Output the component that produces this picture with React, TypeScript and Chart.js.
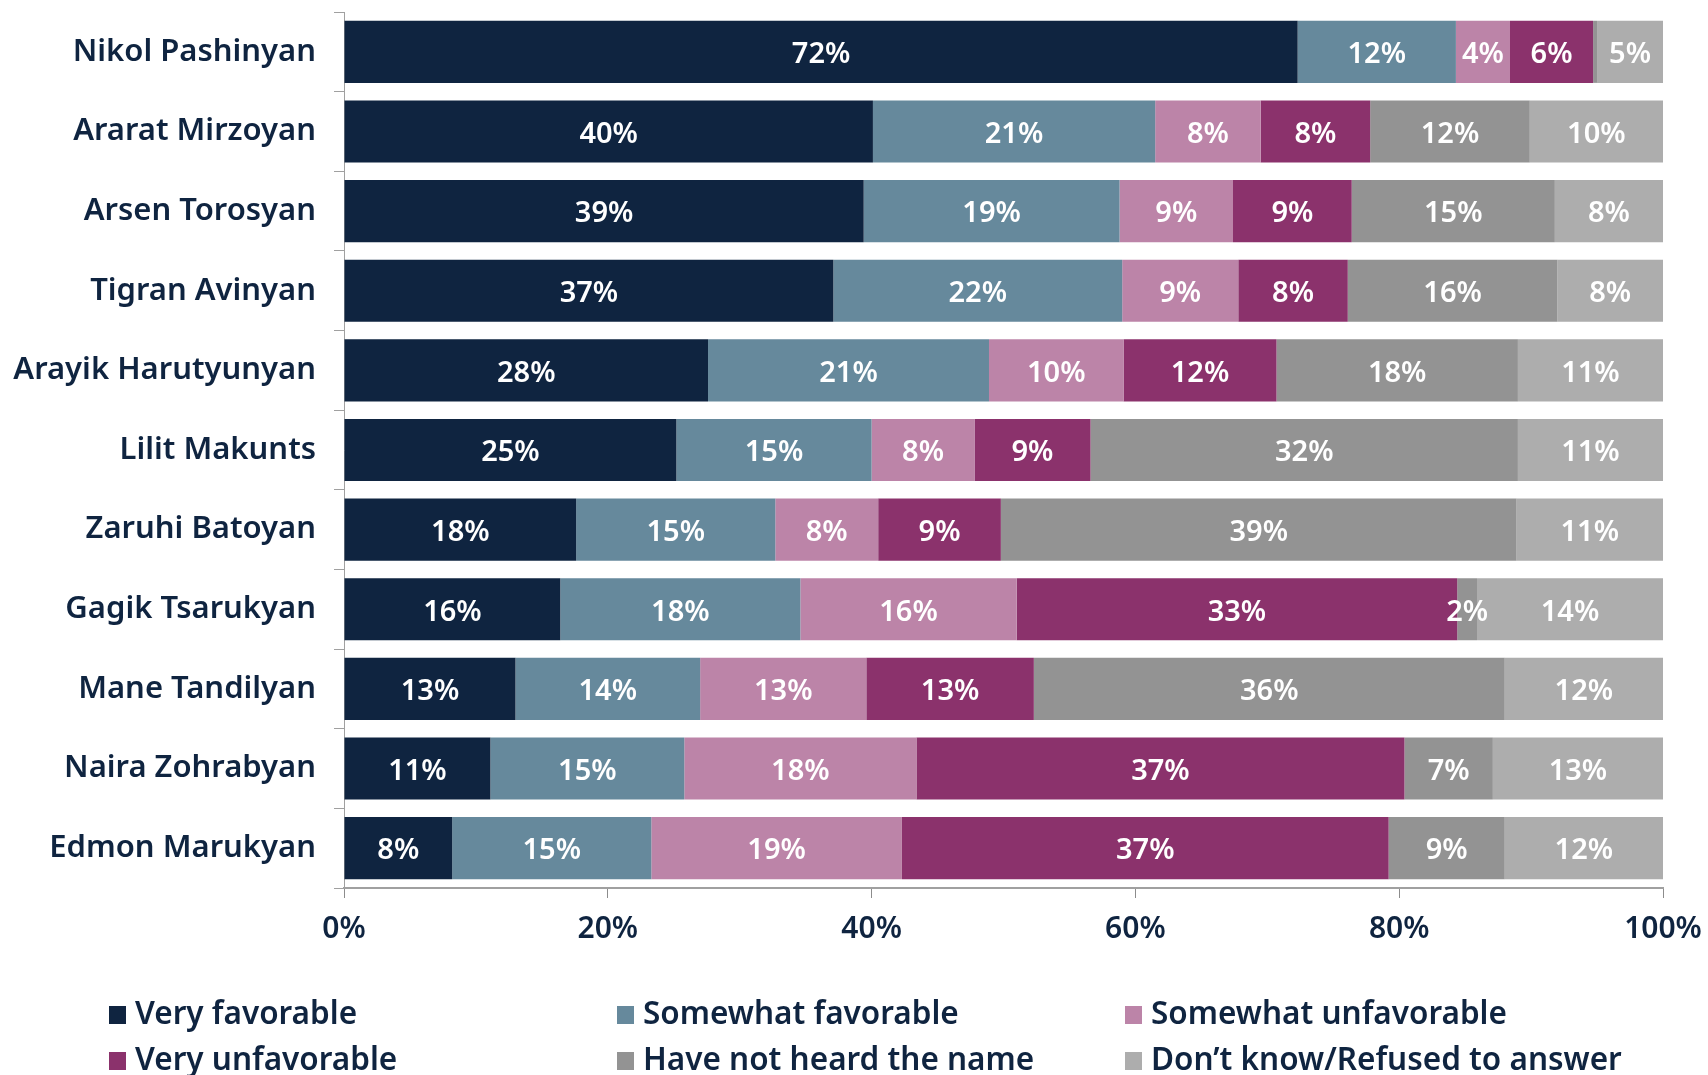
import React, { useEffect, useRef } from "react";
import { Chart, registerables } from "chart.js";

Chart.register(...registerables);

const categories = [
  "Nikol Pashinyan",
  "Ararat Mirzoyan",
  "Arsen Torosyan",
  "Tigran Avinyan",
  "Arayik Harutyunyan",
  "Lilit Makunts",
  "Zaruhi Batoyan",
  "Gagik Tsarukyan",
  "Mane Tandilyan",
  "Naira Zohrabyan",
  "Edmon Marukyan",
];

const veryFavorable = [72.3, 40.1, 39.4, 37.1, 27.6, 25.2, 17.6, 16.4, 13.0, 11.1, 8.2];
const somewhatFavorable = [12.0, 21.4, 19.4, 21.9, 21.3, 14.8, 15.1, 18.2, 14.0, 14.7, 15.1];
const somewhatUnfavorable = [4.1, 8.0, 8.6, 8.8, 10.2, 7.8, 7.8, 16.4, 12.6, 17.6, 19.0];
const veryUnfavorable = [6.3, 8.3, 9.0, 8.3, 11.6, 8.8, 9.3, 33.4, 12.7, 37.0, 36.9];
const notHeard = [0.3, 12.1, 15.4, 15.9, 18.3, 32.4, 39.1, 1.5, 35.7, 6.7, 8.8];
const dontKnow = [5.0, 10.1, 8.2, 8.0, 11.0, 11.0, 11.1, 14.1, 12.0, 12.9, 12.0];

const seriesNames = [
  "Very favorable",
  "Somewhat favorable",
  "Somewhat unfavorable",
  "Very unfavorable",
  "Have not heard the name",
  "Don\u2019t know/Refused to answer",
];
const seriesColors = ["#0F2440", "#66899C", "#BC84A8", "#8B326C", "#939393", "#ADADAD"];
const xTicks = [0, 20, 40, 60, 80, 100];

const NAVY = "#0F2440";
const FONT = "'Noto Sans', 'DejaVu Sans', sans-serif";

const valueLabels = {
  id: "valueLabels",
  afterDatasetsDraw(chart: any) {
    const ctx = chart.ctx;
    ctx.save();
    ctx.font = `600 29px ${FONT}`;
    ctx.fillStyle = "#FFFFFF";
    ctx.textAlign = "center";
    ctx.textBaseline = "middle";
    chart.data.datasets.forEach((ds: any, di: number) => {
      const meta = chart.getDatasetMeta(di);
      meta.data.forEach((bar: any, i: number) => {
        const v = ds.data[i];
        if (v < 1) return;
        const cx = (bar.x + bar.base) / 2;
        ctx.fillText(`${Math.round(v)}%`, cx, bar.y + 3);
      });
    });
    ctx.restore();
  },
};

const gridLegend = {
  id: "gridLegend",
  afterDraw(chart: any) {
    const ctx = chart.ctx;
    ctx.save();
    ctx.font = `600 31.5px ${FONT}`;
    ctx.textBaseline = "middle";
    ctx.textAlign = "left";
    const colX = [109, 617, 1125];
    const rowY = [1015, 1061];
    seriesNames.forEach((name, i) => {
      const x = colX[i % 3];
      const y = rowY[Math.floor(i / 3)];
      ctx.fillStyle = seriesColors[i];
      ctx.fillRect(x, y - 9, 17, 18);
      ctx.fillStyle = NAVY;
      ctx.fillText(name, x + 26, y);
    });
    ctx.restore();
  },
};

export default function App() {
  const ref = useRef<HTMLCanvasElement>(null);
  useEffect(() => {
    const seriesData = [
      veryFavorable,
      somewhatFavorable,
      somewhatUnfavorable,
      veryUnfavorable,
      notHeard,
      dontKnow,
    ];
    const chart = new Chart(ref.current as HTMLCanvasElement, {
      type: "bar",
      data: {
        labels: categories,
        datasets: seriesData.map((d, i) => ({
          label: seriesNames[i],
          data: d,
          backgroundColor: seriesColors[i],
          borderWidth: 0,
          barPercentage: 0.78,
          categoryPercentage: 1,
        })),
      },
      options: {
        indexAxis: "y",
        animation: false,
        responsive: false,
        maintainAspectRatio: false,
        layout: { padding: { left: 10, right: 45, top: 12, bottom: 130 } },
        plugins: {
          legend: { display: false },
          tooltip: { enabled: false },
        },
        scales: {
          x: {
            stacked: true,
            min: 0,
            max: 100,
            afterFit: (s: any) => {
              s.height = 57;
              s.paddingLeft = 0;
              s.paddingRight = 0;
            },
            afterBuildTicks: (s: any) => {
              s.ticks = xTicks.map((v) => ({ value: v }));
            },
            ticks: {
              color: NAVY,
              font: { family: FONT, size: 30, weight: "600" },
              padding: 13,
              callback: (v: any) => `${v}%`,
            },
            grid: {
              drawOnChartArea: false,
              tickLength: 10,
              color: "#8C8C8C",
            },
            border: { display: true, color: "#A0A0A0", width: 2 },
          },
          y: {
            stacked: true,
            afterFit: (s: any) => {
              s.width = 334;
              s.paddingTop = 0;
              s.paddingBottom = 0;
            },
            ticks: {
              color: NAVY,
              font: { family: FONT, size: 31, weight: "600" },
              padding: 18,
            },
            grid: {
              drawOnChartArea: false,
              offset: true,
              tickLength: 10,
              color: "#A0A0A0",
            },
            border: { display: true, color: "#A0A0A0", width: 1 },
          },
        },
      } as any,
      plugins: [valueLabels, gridLegend],
    });
    return () => chart.destroy();
  }, []);
  return (
    <div style={{ position: "fixed", left: 0, top: 0, width: 1708, height: 1075, background: "#fff" }}>
      <canvas ref={ref} width={1708} height={1075} style={{ width: 1708, height: 1075 }} />
    </div>
  );
}
